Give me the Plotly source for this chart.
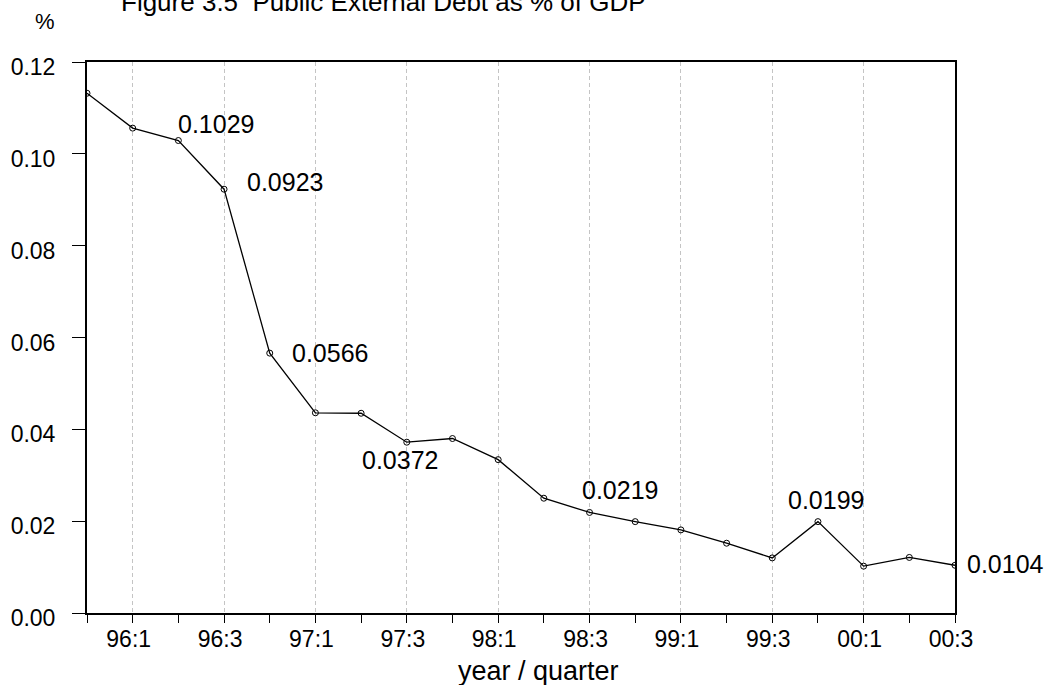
import plotly.graph_objects as go

quarters = ["95:4", "96:1", "96:2", "96:3", "96:4", "97:1", "97:2", "97:3", "97:4",
            "98:1", "98:2", "98:3", "98:4", "99:1", "99:2", "99:3", "99:4",
            "00:1", "00:2", "00:3"]
debt_ratio = [0.1132, 0.1056, 0.1029, 0.0923, 0.0566, 0.0436, 0.0435, 0.0372, 0.0380,
              0.0334, 0.0250, 0.0219, 0.0199, 0.0181, 0.0152, 0.0120, 0.0199,
              0.0102, 0.0121, 0.0104]
labelled = ["96:2", "96:3", "96:4", "97:3", "98:3", "99:4", "00:3"]
label_text = ["0.1029", "0.0923", "0.0566", "0.0372", "0.0219", "0.0199", "0.0104"]
y_ticks = [0.00, 0.02, 0.04, 0.06, 0.08, 0.10, 0.12]
y_tick_text = ["0.00", "0.02", "0.04", "0.06", "0.08", "0.10", "0.12"]

idx = list(range(len(quarters)))
major_idx = idx[1::2]
major_text = quarters[1::2]

FONT = "Liberation Sans, Arial, sans-serif"

fig = go.Figure()
fig.add_trace(go.Scatter(
    x=idx, y=debt_ratio, mode="lines+markers",
    line=dict(color="black", width=1.3),
    marker=dict(symbol="circle-open", size=6, color="black", line=dict(width=1)),
    showlegend=False, hoverinfo="skip",
))

# label placement style (pixel offsets): (xanchor, xshift, yshift)
label_style = {
    "96:2": ("left", -2, 17),
    "96:3": ("left", 21, 7),
    "96:4": ("left", 20, 0),
    "97:3": ("center", -7, -18),
    "98:3": ("center", 30, 22),
    "99:4": ("center", 8, 22),
    "00:3": ("left", 10, 1),
}
for q, t in zip(labelled, label_text):
    i = quarters.index(q)
    xa, xs, ys = label_style[q]
    fig.add_annotation(x=i, y=debt_ratio[i], text=t, showarrow=False,
                       xanchor=xa, yanchor="middle", xshift=xs, yshift=ys,
                       font=dict(family=FONT, size=25, color="black"))

fig.add_annotation(xref="paper", yref="paper", x=0.342, y=1.078, yanchor="bottom",
                   xanchor="center", text="Figure 3.5  Public External Debt as % of GDP",
                   showarrow=False, font=dict(family=FONT, size=26, color="black"))
fig.add_annotation(xref="paper", yref="paper", x=-0.048, y=1.0726, yanchor="middle",
                   xanchor="center", text="%", showarrow=False,
                   font=dict(family=FONT, size=22, color="black"))
fig.add_annotation(xref="paper", yref="paper", x=0.5207, y=-0.105, yanchor="middle",
                   xanchor="center", text="year / quarter", showarrow=False,
                   font=dict(family=FONT, size=27, color="black"))

fig.update_layout(
    width=1050, height=685,
    margin=dict(l=87, r=95, t=62, b=72),
    paper_bgcolor="white", plot_bgcolor="white",
    font=dict(family=FONT, size=23, color="black"),
    xaxis=dict(
        range=[idx[0], idx[-1]], tickmode="array", tickvals=major_idx, ticktext=major_text,
        ticks="outside", ticklen=8, tickwidth=1.2, tickcolor="black",
        showgrid=True, gridcolor="#c4c4c4", griddash="4px,3px", gridwidth=1,
        minor=dict(dtick=1, tick0=0, ticks="outside", ticklen=8, tickwidth=1.2,
                   tickcolor="black", showgrid=False),
        showline=True, linecolor="black", linewidth=2, mirror=True,
        zeroline=False, ticklabelstandoff=-4, ticklabelshift=-4,
        tickfont=dict(family=FONT, size=23),
    ),
    yaxis=dict(
        range=[0, 0.12], tickmode="array", tickvals=y_ticks, ticktext=y_tick_text,
        ticks="outside", ticklen=13, tickwidth=1.2, tickcolor="black",
        showgrid=False, zeroline=False,
        showline=True, linecolor="black", linewidth=2, mirror=True,
        ticklabelstandoff=12, ticklabelshift=5,
        tickfont=dict(family=FONT, size=23),
    ),
)

fig.write_html("out.html", config={"displayModeBar": False},
               post_script="document.body.style.margin='0px';")
